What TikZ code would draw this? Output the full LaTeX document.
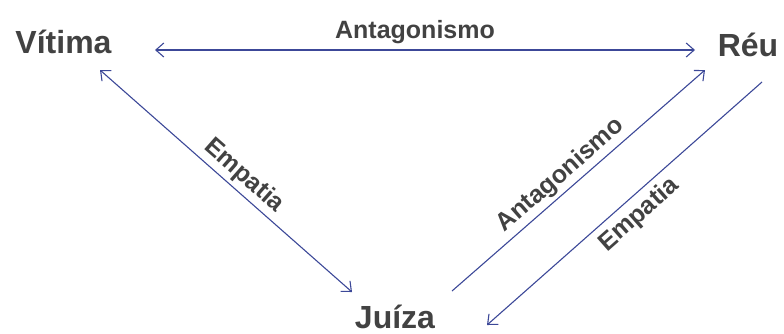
\documentclass[tikz,border=0pt]{standalone}
\usepackage{fontspec}
\setmainfont{Liberation Sans}
\usetikzlibrary{arrows.meta}
\definecolor{txt}{RGB}{66,66,66}
\definecolor{arr}{RGB}{60,72,152}
\tikzset{
  party/.style={font=\fontsize{32}{36}\selectfont\bfseries, text=txt, inner sep=0pt, anchor=base},
  rel/.style={font=\fontsize{25}{28}\selectfont\bfseries, text=txt, sloped},
  link/.style={draw=arr, line width=1.1pt, >={Straight Barb[length=8pt,width=14pt]}},
}
\begin{document}
\begin{tikzpicture}[x=1pt,y=-1pt]
\useasboundingbox (0,0) rectangle (784,333);
\node[party] (vit) at (63.5,53) {Vítima};
\node[party] (reu) at (748,56) {Réu};
\node[party] (jui) at (395,328.5) {Juíza};
% connector ends
\coordinate (vR) at (155,50);
\coordinate (rL) at (695,50);
\coordinate (vD) at (100,70);
\coordinate (jL) at (352,292);
\coordinate (jA) at (452,291);
\coordinate (rA) at (705,70);
\coordinate (rE) at (762,82);
\coordinate (jE) at (487,325);
\draw[link, <->] (vR) -- (rL)
  node[rel, midway, above=2pt, sloped=false, xshift=-10pt] (a1) {Antagonismo};
\draw[link, <->] (vD) -- (jL)
  node[rel, pos=0.53, above] (e1) {Empatia};
\draw[link, ->] (jA) -- (rA)
  node[rel, pos=0.47, above] (a2) {Antagonismo};
\draw[link, <-] (jE) -- (rE)
  node[rel, pos=0.51, below=3pt] (e2) {Empatia};
\end{tikzpicture}
\end{document}
